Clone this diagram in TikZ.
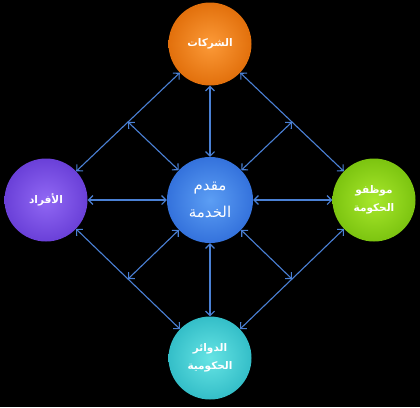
\documentclass[tikz,border=0pt]{standalone}
\usepackage{fontspec}
\TeXXeTstate=1
\newfontfamily\arabicfont[Script=Arabic]{DejaVu Sans}
\usetikzlibrary{arrows.meta,calc}
\definecolor{arrowblue}{HTML}{4A80D4}
\definecolor{orIn}{HTML}{FC9A38}\definecolor{orOut}{HTML}{E2700C}
\definecolor{puIn}{HTML}{9168F4}\definecolor{puOut}{HTML}{6A40D8}
\definecolor{blIn}{HTML}{5C9EF4}\definecolor{blOut}{HTML}{3472DC}
\definecolor{grIn}{HTML}{A8E82C}\definecolor{grOut}{HTML}{7CC410}
\definecolor{cyIn}{HTML}{66E4E4}\definecolor{cyOut}{HTML}{34BEC8}
\tikzset{
  ball/.style={circle, minimum size=83pt, inner sep=0pt, text=white, align=center,
    font=\arabicfont\bfseries\fontsize{10.5}{18}\selectfont},
  orangeball/.style={ball, inner color=orIn, outer color=orOut},
  purpleball/.style={ball, inner color=puIn, outer color=puOut},
  blueball/.style={ball, minimum size=86pt, inner color=blIn, outer color=blOut,
    font=\arabicfont\fontsize{15}{27}\selectfont},
  greenball/.style={ball, inner color=grIn, outer color=grOut},
  cyanball/.style={ball, inner color=cyIn, outer color=cyOut},
  arr/.style={draw=arrowblue, line width=1.1pt,
    {Straight Barb[length=4.5pt,width=9pt]}-{Straight Barb[length=4.5pt,width=9pt]}}
}
\begin{document}
\begin{tikzpicture}[x=1pt,y=-1pt]
\fill[black] (0,0) rectangle (420,407);
\useasboundingbox (0,0) rectangle (420,407);
\node[orangeball] (top) at (210,44) {\beginR الشركات\endR};
\node[purpleball] (left) at (46,200) {\beginR الأفراد\endR};
\node[blueball] (ctr) at (210,200) {\beginR مقدم\endR\\\beginR الخدمة\endR};
\node[greenball] (right) at (374,200) {\beginR موظفو\endR\\\beginR الحكومة\endR};
\node[cyanball] (bot) at (210,358) {\beginR الدوائر\endR\\\beginR الحكومية\endR};
\coordinate (mTL) at ($(top)!0.5!(left)$);
\coordinate (mTR) at ($(top)!0.5!(right)$);
\coordinate (mBL) at ($(bot)!0.5!(left)$);
\coordinate (mBR) at ($(bot)!0.5!(right)$);
\draw[arr] (top) -- (left);
\draw[arr] (top) -- (right);
\draw[arr] (bot) -- (left);
\draw[arr] (bot) -- (right);
\draw[arr] (ctr) -- (top);
\draw[arr] (ctr) -- (bot);
\draw[arr] (ctr) -- (left);
\draw[arr] (ctr) -- (right);
\draw[arr] (ctr) -- (mTL);
\draw[arr] (ctr) -- (mTR);
\draw[arr] (ctr) -- (mBL);
\draw[arr] (ctr) -- (mBR);
\end{tikzpicture}
\end{document}
